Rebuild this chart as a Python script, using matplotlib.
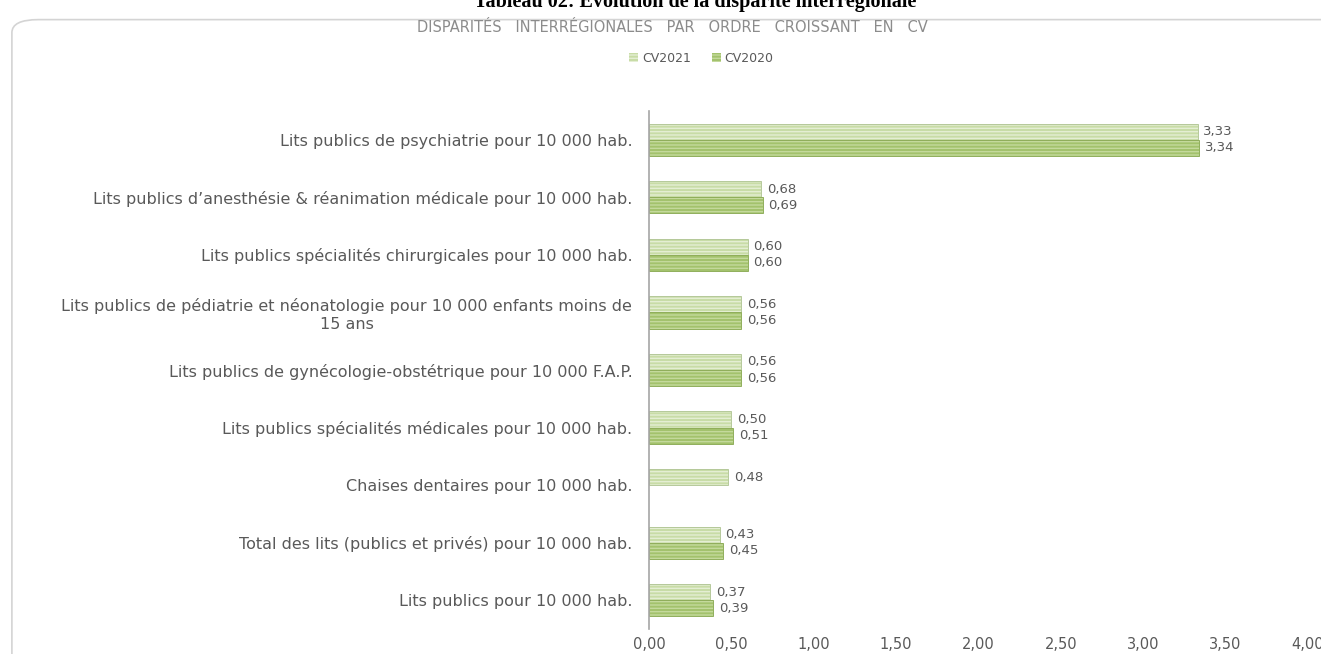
import numpy as np
import matplotlib.pyplot as plt
from matplotlib.patches import FancyBboxPatch

# DONNÉES
categories = [
    "Lits publics de psychiatrie pour 10 000 hab.",
    "Lits publics d\u2019anesthésie & réanimation médicale pour 10 000 hab.",
    "Lits publics spécialités chirurgicales pour 10 000 hab.",
    "Lits publics de pédiatrie et néonatologie pour 10 000 enfants moins de\n15 ans",
    "Lits publics de gynécologie-obstétrique pour 10 000 F.A.P.",
    "Lits publics spécialités médicales pour 10 000 hab.",
    "Chaises dentaires pour 10 000 hab.",
    "Total des lits (publics et privés) pour 10 000 hab.",
    "Lits publics pour 10 000 hab.",
]
cv2021 = [3.33, 0.68, 0.60, 0.56, 0.56, 0.50, 0.48, 0.43, 0.37]
cv2020 = [3.34, 0.69, 0.60, 0.56, 0.56, 0.51, np.nan, 0.45, 0.39]
xticks = [0, 0.5, 1, 1.5, 2, 2.5, 3, 3.5, 4]

titre_doc = "Tableau 02: Évolution de la disparité interrégionale"
titre_graf = "DISPARITÉS   INTERRÉGIONALES   PAR   ORDRE   CROISSANT   EN   CV"

def fr(v):
    return f"{v:.2f}".replace(".", ",")

fig = plt.figure(figsize=(13.21, 6.54), dpi=100)

# cadre arrondi
cadre = FancyBboxPatch((0.009, -0.05), 1.05, 1.02, boxstyle="round,pad=0,rounding_size=0.02",
                       transform=fig.transFigure, facecolor="none", edgecolor="#d4d4d4",
                       linewidth=1.2, zorder=-1)
fig.patches.append(cadre)

fig.text(0.526, 1 - 7 / 654, titre_doc, ha="center", va="baseline", fontsize=14.5,
         fontweight="bold", family="Liberation Serif", color="black")
fig.text(0.509, 1 - 28 / 654, titre_graf, ha="center", va="center", fontsize=10.5,
         color="#8c8c8c")

ax = fig.add_axes([649 / 1321, 1 - 629 / 654, (1308 - 649) / 1321, (629 - 111) / 654])
ax.set_facecolor("none")

y = np.arange(len(categories))
h = 0.28
c21, c20 = "#c8dca6", "#a3c26c"
s21, s20 = "#e4eed3", "#c4d99c"

b21 = ax.barh(y - h / 2, cv2021, height=h, color=c21, edgecolor=s21, hatch="-----",
              linewidth=0, label="CV2021")
b20 = ax.barh(y + h / 2, cv2020, height=h, color=c20, edgecolor=s20, hatch="-----",
              linewidth=0, label="CV2020")
ax.barh(y - h / 2, cv2021, height=h, fill=False, edgecolor="#b5c99a", linewidth=0.7)
ax.barh(y + h / 2, cv2020, height=h, fill=False, edgecolor="#8fae5a", linewidth=0.7)

for yi, v in zip(y, cv2021):
    ax.text(v + 0.035, yi - h / 2, fr(v), va="center", ha="left", fontsize=9.5, color="#595959")
for yi, v in zip(y, cv2020):
    if not np.isnan(v):
        ax.text(v + 0.035, yi + h / 2, fr(v), va="center", ha="left", fontsize=9.5, color="#595959")

ax.set_ylim(8.5, -0.5)
ax.set_xlim(0, 4)
ax.set_yticks(y)
ax.set_yticklabels(categories, fontsize=11.5, color="#595959", multialignment="center")
ax.set_xticks(xticks)
ax.set_xticklabels([fr(t) for t in xticks], fontsize=10.5, color="#595959")
ax.tick_params(axis="both", length=0)
ax.tick_params(axis="x", pad=6)
ax.tick_params(axis="y", pad=12)
for s in ["top", "right", "bottom"]:
    ax.spines[s].set_visible(False)
ax.spines["left"].set_color("#a6a6a6")
ax.spines["left"].set_linewidth(1.2)

leg = fig.legend(handles=[b21, b20], loc="center", bbox_to_anchor=(0.531, 1 - 58 / 654),
                 ncol=2, frameon=False, fontsize=9, handlelength=0.7, handleheight=0.7,
                 handletextpad=0.3, columnspacing=1.7)
for t in leg.get_texts():
    t.set_color("#595959")

plt.savefig("out.png", dpi=100)
